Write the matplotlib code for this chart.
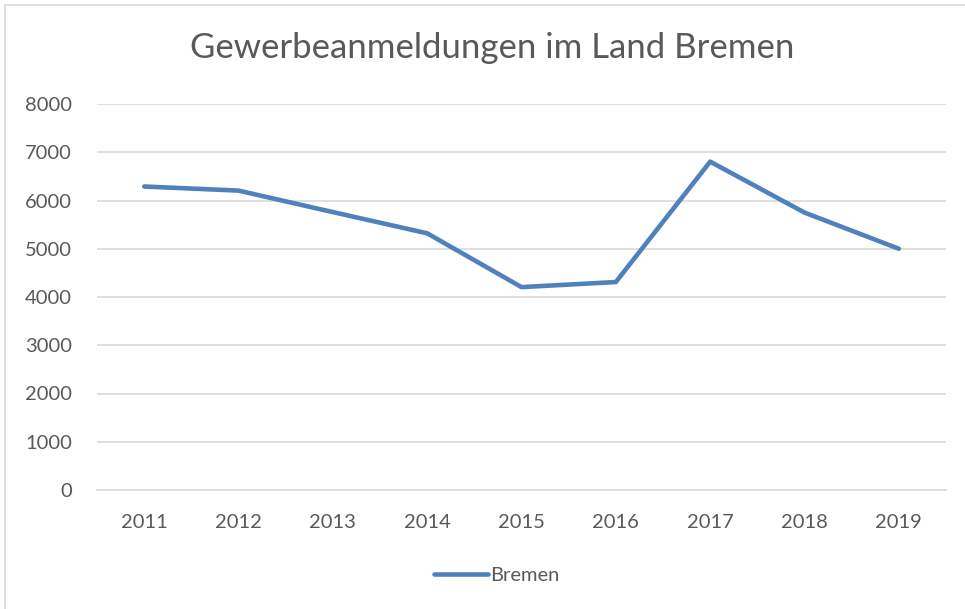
import matplotlib.pyplot as plt
from matplotlib.patches import Rectangle

years = ['2011', '2012', '2013', '2014', '2015', '2016', '2017', '2018', '2019']
bremen = [6290, 6205, 5760, 5320, 4205, 4310, 6805, 5750, 5000]

plt.rcParams['font.family'] = ['Lato', 'DejaVu Sans']
grey = '#595959'

fig = plt.figure(figsize=(9.65, 6.09), dpi=100)
ax = fig.add_axes([97/965, 1-490/609, (946-97)/965, (490-104)/609])

x = range(len(years))
line, = ax.plot(x, bremen, color='#4f81bd', lw=3.3, solid_capstyle='round',
                solid_joinstyle='round', label='Bremen')

ax.set_xlim(-0.5, len(years)-0.5)
ax.set_ylim(0, 8000)
ax.set_yticks(range(0, 8001, 1000))
ax.set_xticks(list(x))
ax.set_xticklabels(years)
ax.grid(axis='y', color='#d9d9d9', lw=1.2)
ax.set_axisbelow(True)
for s in ['top', 'right', 'left']:
    ax.spines[s].set_visible(False)
ax.spines['bottom'].set_color('#d9d9d9')
ax.spines['bottom'].set_linewidth(1.2)
ax.tick_params(length=0, labelsize=14.5, colors=grey, pad=17)
ax.tick_params(axis='y', pad=18)

fig.text(492/965, 1-48/609, 'Gewerbeanmeldungen im Land Bremen', ha='center', va='center',
         fontsize=25, color=grey)

fig.legend(handles=[line], loc='center', bbox_to_anchor=(497/965, 1-575/609),
           frameon=False, fontsize=14.5, labelcolor=grey, handlelength=2.7,
           handletextpad=0.1)

fig.patches.append(Rectangle((5/965, -0.1), 1.1, 1-5/609+0.1, transform=fig.transFigure,
                             fill=False, edgecolor='#d9d9d9', lw=1.2))

fig.savefig('out.png', dpi=100)
